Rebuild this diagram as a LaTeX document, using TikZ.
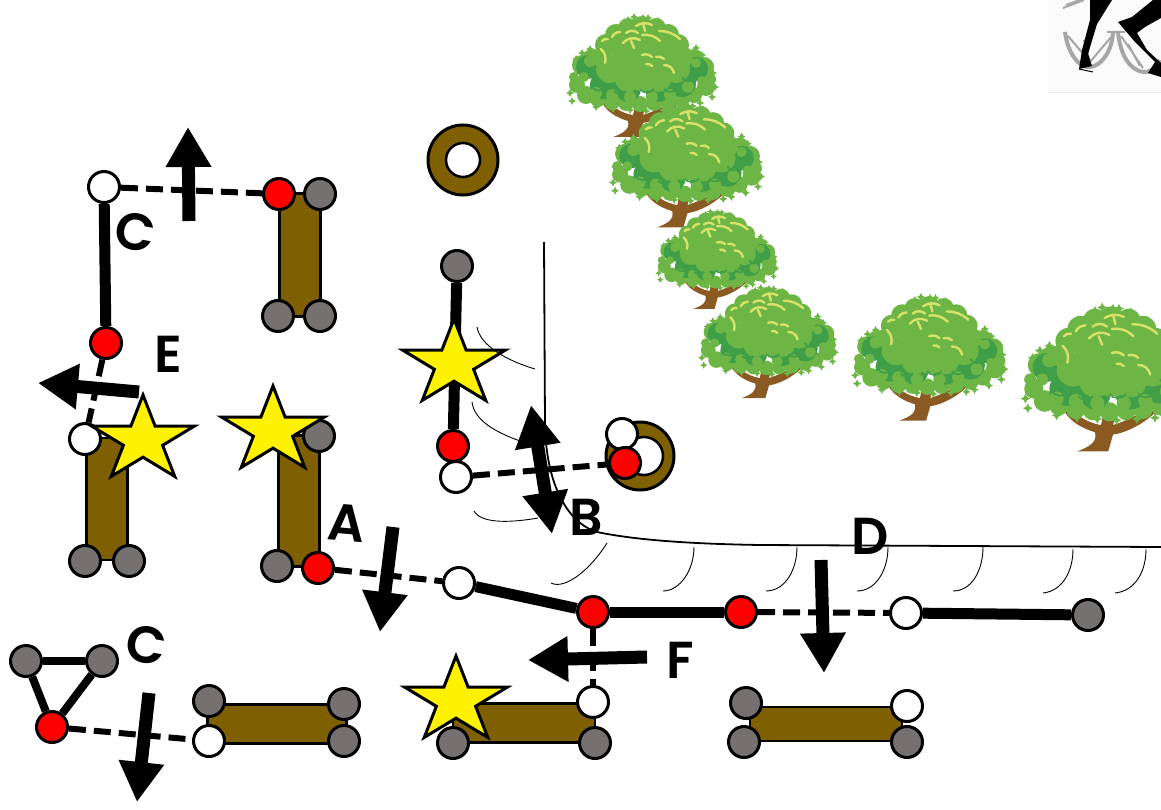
\documentclass[tikz,border=0pt]{standalone}
\usepackage{fontspec}
\setmainfont{Poppins}
\newfontfamily\letterfont{Poppins}[UprightFont=* SemiBold]
\usetikzlibrary{arrows.meta,shapes.geometric}
\pgfdeclarelayer{bg}
\pgfsetlayers{bg,main}
\definecolor{brownbar}{HTML}{7F6000}
\definecolor{jointgray}{HTML}{767171}
\definecolor{leaflight}{HTML}{6DB545}
\definecolor{leafdark}{HTML}{3F9E48}
\definecolor{leafyellow}{HTML}{D8E26A}
\definecolor{barkbrown}{HTML}{8A5A22}
\tikzset{
  joint/.style={circle,draw=black,line width=3pt,minimum size=31pt,inner sep=0pt},
  redjoint/.style={joint,fill=red},
  whitejoint/.style={joint,fill=white},
  grayjoint/.style={joint,fill=jointgray},
  barbox/.style={draw=black,line width=2.5pt,fill=brownbar,inner sep=0pt},
  solidlink/.style={line width=11pt},
  thinlink/.style={line width=8pt},
  dashlink/.style={line width=6pt,dash pattern=on 17pt off 8pt},
  bigarrow/.style={line width=13pt,-{Triangle[length=40pt,width=43pt]}},
  bigdouble/.style={line width=13pt,{Triangle[length=42pt,width=43pt]}-{Triangle[length=42pt,width=43pt]}},
  starry/.style={star,star points=5,star point ratio=2.618,draw=black,line width=3pt,fill=yellow,
     minimum size=90pt,inner sep=0pt,xscale=1.2,transform shape},
  wall/.style={line width=1.8pt},
  hatch/.style={line width=0.9pt},
  lettermark/.style={font=\letterfont\fontsize{52}{52}\selectfont,inner sep=0pt},
  ring/.style={circle,draw=black,line width=3pt,fill=brownbar,inner sep=0pt},
  hole/.style={circle,draw=black,line width=2.5pt,fill=white,inner sep=0pt}
}
\newcommand{\leaftree}[3]{%
\begin{scope}[shift={(#1,#2)},scale=#3]
 \fill[barkbrown] (45,122) .. controls (56,118) and (62,114) .. (60,106)
   .. controls (50,103) and (40,98) .. (34,88) -- (42,88) .. controls (48,95) and (58,99) .. (65,100)
   -- (68,86) -- (79,86) -- (75,100) .. controls (88,96) and (98,90) .. (108,84) -- (113,87)
   .. controls (102,98) and (88,106) .. (75,108) -- (71,122) -- cycle;
 \foreach \px/\py in {4/86,2/78,5/63,8/44,14/38,22/34,128/33,134/40,145/58,147/72,144/82,132/88,118/92,28/92,45/94,62/95,78/96,95/95,110/94,75/3,66/2,80/3,60/5,90/6}{
   \fill[leaflight] (\px-4,\py) -- (\px,\py-2) -- (\px+4,\py) -- (\px,\py+2) -- cycle (\px-2,\py) -- (\px,\py-4) -- (\px+2,\py) -- (\px,\py+4) -- cycle;
 }
 \foreach \px/\py/\pr in {9/70/8,18/80/9,30/84/8,44/87/8,58/88/8,72/89/8,86/88/8,100/87/8,114/84/8,126/80/8,138/72/9,142/64/6,6/62/5,14/50/10,24/44/10,126/44/10,136/52/10}{
   \fill[leaflight] (\px,\py) circle[radius=\pr];
 }
 \foreach \px/\py/\pr in {20/52/12,36/70/14,60/74/13,90/74/13,114/68/14,128/54/12}{
   \fill[leafdark] (\px,\py) circle[radius=\pr];
 }
 \foreach \px/\py/\pr in {16/62/5,28/78/6,44/80/6,62/82/6,84/82/6,102/80/6,120/72/6,134/66/5,22/46/6,128/48/5}{
   \fill[leaflight] (\px,\py) circle[radius=\pr];
 }
 \foreach \px/\py/\pr in {74/11/10,60/13/10,88/13/10,48/20/11,100/20/11,38/30/11,110/30/11,33/42/10,114/42/11,42/54/14,108/54/14,60/64/13,90/64/13,75/44/32}{
   \fill[leaflight] (\px,\py) circle[radius=\pr];
 }
 \draw[leafdark,line width=1.6pt]
   (24,72) to[bend right=60] (38,72) (46,76) to[bend right=60] (58,76)
   (72,74) to[bend right=60] (86,74) (96,74) to[bend right=60] (108,74) (114,62) to[bend right=60] (126,64);
 \draw[leafyellow,line width=2.4pt,line cap=round]
   (68,11) to[bend left=30] (84,10) (75,8) -- (77,16)
   (44,22) to[bend left=30] (52,17)
   (58,18) to[bend left=40] (70,18)
   (74,20) to[bend left=25] (92,26)
   (91,16) to[bend left=20] (112,24)
   (55,28) to[bend left=40] (72,25) (63,26) -- (66,33)
   (34,26) to[bend left=30] (40,24)
   (33,34) to[bend left=30] (37,48)
   (74,40) to[bend left=30] (84,42)
   (88,42) to[bend left=30] (96,44)
   (96,50) to[bend left=40] (106,58)
   (78,49) to[bend left=30] (84,51);
\end{scope}}
\begin{document}
\begin{tikzpicture}[x=1pt,y=-1pt]
\useasboundingbox (0,0) rectangle (1161,810);
% wheeled figure, top right
\fill[white!98!black] (1048,0) rectangle (1161,93);
\draw[black!8,line width=1pt] (1048,93) -- (1161,93);
\draw[black!35,line width=4pt]
  (1065,32) .. controls (1068,55) and (1080,68) .. (1090,67) .. controls (1102,66) and (1112,50) .. (1113,33)
  (1118,32) .. controls (1120,55) and (1130,70) .. (1143,72) .. controls (1150,73) and (1156,68) .. (1160,60);
\draw[black!35,line width=2pt]
  (1068,36) -- (1090,62) (1112,36) -- (1090,62) (1084,40) -- (1090,62)
  (1121,36) -- (1143,68) (1128,44) -- (1140,66) (1107,32) -- (1125,32)
  (1063,8) -- (1084,0) (1066,5) -- (1080,0);
\fill[black] (1090,0) -- (1112,0) -- (1097,24) -- (1088,54) -- (1092,66) -- (1079,69) -- (1082,50) -- (1090,20) -- cycle;
\draw[black,line width=1pt] (1079,69) -- (1093,72);
\fill[black] (1118,22) -- (1132,17) -- (1153,0) -- (1161,0) -- (1161,18) -- (1145,27) -- (1137,33) -- (1147,50) -- (1161,63) -- (1161,77) -- (1148,73) -- (1155,62) -- (1135,42) -- cycle;
% trees
\leaftree{568}{15}{1}
\leaftree{611}{103}{1.02}
\leaftree{657}{210}{.81}
\leaftree{700}{286}{.92}
\leaftree{853}{295}{1.03}
\leaftree{1023}{305}{1.2}
% joints
\node[whitejoint] (w1) at (104,187) {};
\node[redjoint] (r1) at (279,194) {};
\node[grayjoint] (g1) at (320,194) {};
\node[grayjoint] (g2) at (278,316) {};
\node[grayjoint] (g3) at (320,316) {};
\node[redjoint] (r2) at (106,343) {};
\node[whitejoint] (w2) at (85,439) {};
\node[grayjoint] (g4) at (85,561) {};
\node[grayjoint] (g5) at (129,561) {};
\node[grayjoint] (g6) at (319,436) {};
\node[grayjoint] (g7) at (277,566) {};
\node[redjoint] (r3) at (318,568) {};
\node[whitejoint] (w3) at (459,583) {};
\node[redjoint] (r4) at (593,612) {};
\node[redjoint] (r5) at (741,612) {};
\node[whitejoint] (w4) at (906,613) {};
\node[grayjoint] (g8) at (1088,615) {};
\node[whitejoint] (w5) at (593,702) {};
\node[grayjoint] (g9) at (453,743) {};
\node[grayjoint] (g10) at (595,743) {};
\node[grayjoint] (g11) at (209,701) {};
\node[grayjoint] (g12) at (344,704) {};
\node[grayjoint] (g13) at (344,741) {};
\node[whitejoint] (w6) at (209,741) {};
\node[grayjoint] (g14) at (26,661) {};
\node[grayjoint] (g15) at (102,661) {};
\node[redjoint] (r6) at (52,727) {};
\node[grayjoint] (g16) at (746,703) {};
\node[grayjoint] (g17) at (744,742) {};
\node[grayjoint] (g18) at (907,742) {};
\node[whitejoint] (w7) at (907,706) {};
\node[grayjoint] (g19) at (457,266) {};
\node[redjoint] (r7) at (453,446) {};
\node[whitejoint] (w8) at (456,477) {};
\node[whitejoint] (w9) at (622,434) {};
\node[redjoint] (r8) at (625,463) {};
\begin{pgfonlayer}{bg}
 \node[ring,minimum size=70pt] (ring1) at (463,160) {};
 \node[hole,minimum size=34pt] (hole1) at (463,160) {};
 \node[ring,minimum size=68pt] (ring2) at (640,456) {};
 \node[hole,minimum size=38pt] (hole2) at (644,456) {};
 \node[barbox,minimum width=41pt,minimum height=123pt] (bar1) at (300,255) {};
 \node[barbox,minimum width=41pt,minimum height=122pt] (bar2) at (107,499) {};
 \node[barbox,minimum width=41pt,minimum height=131pt] (bar3) at (299,501) {};
 \node[barbox,minimum width=142pt,minimum height=39pt] (bar4) at (524,723) {};
 \node[barbox,minimum width=139pt,minimum height=39pt] (bar5) at (277,724) {};
 \node[barbox,minimum width=152pt,minimum height=34pt] (bar6) at (826,724) {};
 \draw[solidlink] (w1) -- (r2);
 \draw[dashlink] (w1) -- (r1);
 \draw[dashlink] (r2) -- (w2);
 \draw[dashlink] (r3) -- (w3);
 \draw[solidlink] (w3) -- (r4);
 \draw[solidlink] (r4) -- (r5);
 \draw[dashlink] (r5) -- (w4);
 \draw[solidlink] (w4) -- (g8);
 \draw[dashlink] (r4) -- (w5);
 \draw[thinlink] (g14) -- (g15);
 \draw[thinlink] (g14) -- (r6);
 \draw[thinlink] (g15) -- (r6);
 \draw[dashlink] (r6) -- (w6);
 \draw[solidlink] (g19) -- (r7);
 \draw[dashlink] (w8) -- (r8);
\end{pgfonlayer}
% stars
\node[starry] (s1) at (143,440) {};
\node[starry] (s2) at (273,431) {};
\node[starry] (s3) at (454,364) {};
\node[starry] (s4) at (456,701) {};
% ground lines
\coordinate (wa) at (544,242);
\coordinate (wb) at (545,425);
\coordinate (wc) at (597,532);
\coordinate (wd) at (760,545);
\coordinate (we) at (1161,547);
\draw[wall] (wa) -- (wb) .. controls (546,480) and (565,522) .. (wc) .. controls (640,541) and (700,544) .. (wd) -- (we);
\draw[hatch]
  (477,327) .. controls (480,345) and (505,360) .. (535,369)
  (472,402) .. controls (474,420) and (495,432) .. (520,441)
  (474,511) .. controls (482,525) and (515,522) .. (538,518)
  (607,543) .. controls (590,570) and (565,590) .. (551,583)
  (694,547) .. controls (694,570) and (680,591) .. (663,591)
  (797,547) .. controls (797,570) and (785,591) .. (766,591)
  (888,547) .. controls (888,570) and (876,591) .. (857,591)
  (983,547) .. controls (983,570) and (972,591) .. (953,591)
  (1073,549) .. controls (1073,572) and (1062,591) .. (1043,593)
  (1146,549) .. controls (1146,572) and (1135,591) .. (1115,593);
% thick arrows
\coordinate (au1) at (189,221);  \coordinate (au2) at (188,127);
\coordinate (ae1) at (139,392);  \coordinate (ae2) at (38,383);
\coordinate (aa1) at (393,527);  \coordinate (aa2) at (380,632);
\coordinate (ab1) at (531,405);  \coordinate (ab2) at (552,534);
\coordinate (af1) at (647,657);  \coordinate (af2) at (528,660);
\coordinate (ad1) at (821,560);  \coordinate (ad2) at (824,673);
\coordinate (ac1) at (149,693);  \coordinate (ac2) at (137,802);
\draw[bigarrow] (au1) -- (au2);
\draw[bigarrow] (ae1) -- (ae2);
\draw[bigarrow] (aa1) -- (aa2);
\draw[bigdouble] (ab1) -- (ab2);
\draw[bigarrow] (af1) -- (af2);
\draw[bigarrow] (ad1) -- (ad2);
\draw[bigarrow] (ac1) -- (ac2);
% letters
\node[lettermark,rotate=-10] (lc1) at (135,232) {C};
\node[lettermark] (le) at (168,354) {E};
\node[lettermark,rotate=-5] (la) at (347,523) {A};
\node[lettermark] (lb) at (586,517) {B};
\node[lettermark] (ld) at (870,536) {D};
\node[lettermark] (lf) at (680,660) {F};
\node[lettermark,rotate=-10] (lc2) at (146,645) {C};
\end{tikzpicture}
\end{document}
